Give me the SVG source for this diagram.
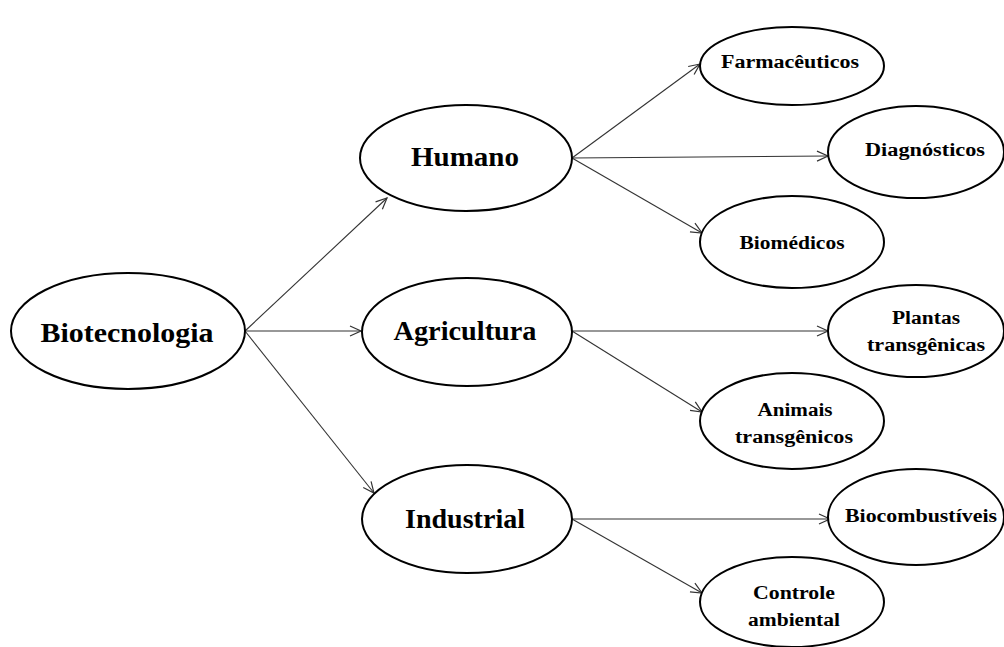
<svg xmlns="http://www.w3.org/2000/svg" width="1004" height="647" viewBox="0 0 1004 647">
<style>
.n{fill:#fff;stroke:#000;stroke-width:2}
.t{font-family:"Liberation Serif","Times New Roman",serif;font-weight:bold;fill:#000;text-anchor:middle}
.b{font-size:28px}
.s{font-size:18.5px}
.c{stroke:#333;stroke-width:1.1;fill:none;marker-end:url(#a)}
</style>
<defs>
<marker id="a" markerUnits="userSpaceOnUse" markerWidth="14" markerHeight="14" refX="12" refY="6" orient="auto">
<path d="M1,1 L12,6 L1,11" fill="none" stroke="#333" stroke-width="1.2"/>
</marker>
</defs>
<g id="connectors">
<line class="c" x1="245" y1="331" x2="387" y2="198"/>
<line class="c" x1="245" y1="331" x2="361" y2="331"/>
<line class="c" x1="245" y1="331" x2="374" y2="493"/>
<line class="c" x1="572" y1="158" x2="700" y2="64"/>
<line class="c" x1="572" y1="158" x2="828" y2="156"/>
<line class="c" x1="572" y1="158" x2="702" y2="233"/>
<line class="c" x1="572" y1="331" x2="828" y2="331"/>
<line class="c" x1="572" y1="331" x2="702" y2="412"/>
<line class="c" x1="572" y1="519" x2="830" y2="519"/>
<line class="c" x1="572" y1="519" x2="702" y2="593"/>
</g>
<g id="biotecnologia"><ellipse class="n" cx="128" cy="331" rx="117" ry="58"/><text class="t b" x="127" y="342" textLength="173" lengthAdjust="spacingAndGlyphs">Biotecnologia</text></g>
<g id="humano"><ellipse class="n" cx="466" cy="158" rx="106" ry="53"/><text class="t b" x="465" y="166" textLength="108" lengthAdjust="spacingAndGlyphs">Humano</text></g>
<g id="agricultura"><ellipse class="n" cx="467" cy="332" rx="105" ry="54"/><text class="t b" x="465" y="340" textLength="143" lengthAdjust="spacingAndGlyphs">Agricultura</text></g>
<g id="industrial"><ellipse class="n" cx="467" cy="519" rx="105" ry="54"/><text class="t b" x="465" y="528" textLength="120" lengthAdjust="spacingAndGlyphs">Industrial</text></g>
<g id="farmaceuticos"><ellipse class="n" cx="792" cy="66" rx="92" ry="39"/><text class="t s" x="790" y="68" textLength="138" lengthAdjust="spacingAndGlyphs">Farmacêuticos</text></g>
<g id="diagnosticos"><ellipse class="n" cx="916" cy="152" rx="88" ry="46"/><text class="t s" x="925" y="156" textLength="120" lengthAdjust="spacingAndGlyphs">Diagnósticos</text></g>
<g id="biomedicos"><ellipse class="n" cx="792" cy="242" rx="92" ry="46"/><text class="t s" x="792" y="249" textLength="105" lengthAdjust="spacingAndGlyphs">Biomédicos</text></g>
<g id="plantas"><ellipse class="n" cx="916" cy="331" rx="88" ry="46"/><text class="t s" x="926" y="324" textLength="68" lengthAdjust="spacingAndGlyphs">Plantas</text><text class="t s" x="926" y="351" textLength="118" lengthAdjust="spacingAndGlyphs">transgênicas</text></g>
<g id="animais"><ellipse class="n" cx="792" cy="421" rx="92" ry="48"/><text class="t s" x="795" y="416" textLength="75" lengthAdjust="spacingAndGlyphs">Animais</text><text class="t s" x="794" y="443" textLength="118" lengthAdjust="spacingAndGlyphs">transgênicos</text></g>
<g id="biocombustiveis"><ellipse class="n" cx="916" cy="517" rx="88" ry="48"/><text class="t s" x="921" y="522" textLength="152" lengthAdjust="spacingAndGlyphs">Biocombustíveis</text></g>
<g id="controle"><ellipse class="n" cx="792" cy="602" rx="92" ry="45"/><text class="t s" x="794" y="599" textLength="82" lengthAdjust="spacingAndGlyphs">Controle</text><text class="t s" x="794" y="626" textLength="92" lengthAdjust="spacingAndGlyphs">ambiental</text></g>
</svg>
